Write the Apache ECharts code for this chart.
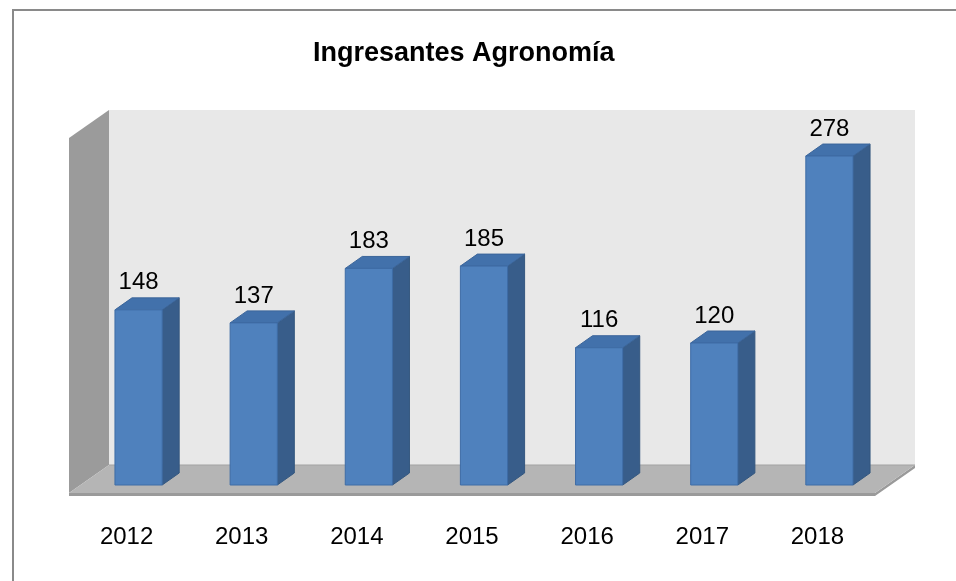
<!DOCTYPE html>
<html>
<head>
<meta charset="utf-8">
<script src="https://cdn.jsdelivr.net/npm/echarts@6/dist/echarts.min.js"></script>
<style>
html,body{margin:0;padding:0;background:#fff;}
#chart{width:956px;height:581px;}
</style>
</head>
<body>
<div id="chart"></div>
<script>
var years = ['2012', '2013', '2014', '2015', '2016', '2017', '2018'];
var ingresantes = [148, 137, 183, 185, 116, 120, 278];
var yMax = 300;

var font = 'Liberation Sans';
// depth of the 3d box (px)
var depthX = 17, depthY = -12;
var backX = 28, backY = -20;
var frontX = -12, frontY = 8;

var chart = echarts.init(document.getElementById('chart'));

function renderWalls(params, api) {
    var cs = params.coordSys;
    var xl = cs.x, xr = cs.x + cs.width;
    var yt = cs.y, yb = cs.y + cs.height;
    return {
        type: 'group',
        children: [
            // back wall
            {type: 'rect', shape: {x: xl + backX, y: yt + backY, width: cs.width, height: cs.height},
             style: {fill: '#e8e8e8'}},
            // left wall
            {type: 'polygon', shape: {points: [[xl + frontX, yt + frontY], [xl + backX, yt + backY], [xl + backX, yb + backY], [xl + frontX, yb + frontY]]},
             style: {fill: '#9b9b9b'}},
            // floor edge
            {type: 'polygon', shape: {points: [[xl + frontX, yb + frontY], [xr + frontX, yb + frontY], [xr + backX, yb + backY], [xr + backX, yb + backY + 3], [xr + frontX, yb + frontY + 3], [xl + frontX, yb + frontY + 3]]},
             style: {fill: '#9a9a9a'}},
            // floor
            {type: 'polygon', shape: {points: [[xl + frontX, yb + frontY], [xr + frontX, yb + frontY], [xr + backX, yb + backY], [xl + backX, yb + backY]]},
             style: {fill: '#b5b5b5'}},
            {type: 'line', shape: {x1: xl + backX, y1: yb + backY, x2: xr + backX, y2: yb + backY},
             style: {stroke: '#a3a3a3', lineWidth: 1}}
        ]
    };
}

function renderBar(params, api) {
    var base = api.coord([api.value(0), 0]);
    var top = api.coord([api.value(0), api.value(1)]);
    var bw = api.size([1, 0])[0] * 0.41;
    var x0 = base[0] - bw / 2, x1 = base[0] + bw / 2;
    var yb = base[1], yt = top[1];
    return {
        type: 'group',
        children: [
            {type: 'polygon', shape: {points: [[x1, yt], [x1 + depthX, yt + depthY], [x1 + depthX, yb + depthY], [x1, yb]]},
             style: {fill: '#385d8a', stroke: '#34577f', lineWidth: 1}},
            {type: 'polygon', shape: {points: [[x0, yt], [x0 + depthX, yt + depthY], [x1 + depthX, yt + depthY], [x1, yt]]},
             style: {fill: '#4271ab', stroke: '#3b659a', lineWidth: 1}},
            {type: 'rect', shape: {x: x0, y: yt, width: bw, height: yb - yt},
             style: {fill: '#4f81bd', stroke: '#3e6ca6', lineWidth: 1}},
            {type: 'text', x: base[0], y: yt - 27,
             style: {text: String(api.value(1)), fill: '#000', font: '24px ' + font, align: 'center', verticalAlign: 'middle'}}
        ]
    };
}

var option = {
    animation: false,
    backgroundColor: '#fff',
    title: {
        text: 'Ingresantes Agronomía',
        left: 308,
        top: 35,
        textStyle: {fontFamily: font, fontSize: 27, fontWeight: 'bold', color: '#000'}
    },
    graphic: [
        {type: 'rect', shape: {x: 13, y: 10, width: 1000, height: 1000},
         style: {fill: 'none', stroke: '#8a8a8a', lineWidth: 2}}
    ],
    grid: {left: 81, right: 69, top: 130, bottom: 96},
    xAxis: {
        type: 'category',
        data: years,
        axisLine: {show: false},
        axisTick: {show: false},
        axisLabel: {margin: 40, fontSize: 24, fontFamily: font, color: '#000', padding: [0, 24, 0, 0]}
    },
    yAxis: {
        type: 'value',
        min: 0,
        max: yMax,
        show: false
    },
    series: [
        {type: 'custom', z: 1, renderItem: renderWalls, data: [[0, 0]], silent: true},
        {type: 'custom', z: 2, renderItem: renderBar,
         data: years.map(function (y, i) { return [i, ingresantes[i]]; })}
    ]
};
chart.setOption(option);
</script>
</body>
</html>
